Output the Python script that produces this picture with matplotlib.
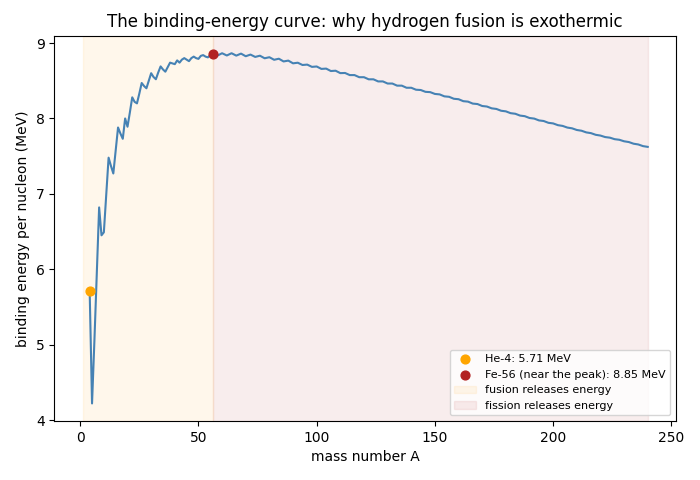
import matplotlib
matplotlib.use("Agg")
import matplotlib.pyplot as plt

# mass numbers
mass_light = list(range(4, 57))          # A = 4 .. 56, every nucleus
mass_heavy = list(range(58, 241, 2))     # A = 58 .. 240, every second nucleus

# binding energy per nucleon (MeV)
be_light = [
    5.71, 4.22, 5.05, 5.95, 6.82, 6.45, 6.49, 6.98, 7.48, 7.37,   # 4-13
    7.27, 7.57, 7.88, 7.80, 7.73, 8.00, 7.89, 8.08, 8.28, 8.22,   # 14-23
    8.20, 8.33, 8.47, 8.43, 8.40, 8.50, 8.60, 8.55, 8.52, 8.61,   # 24-33
    8.69, 8.65, 8.62, 8.68, 8.74, 8.73, 8.72, 8.77, 8.74, 8.78,   # 34-43
    8.80, 8.78, 8.76, 8.80, 8.82, 8.80, 8.79, 8.83, 8.84, 8.82,   # 44-53
    8.81, 8.84, 8.85,                                             # 54-56
]
be_heavy = [
    8.833, 8.865, 8.835, 8.865, 8.833, 8.860, 8.825, 8.847, 8.816, 8.832,  # 58-76
    8.798, 8.812, 8.778, 8.792, 8.756, 8.767, 8.731, 8.739, 8.709, 8.714,  # 78-96
    8.684, 8.689, 8.657, 8.661, 8.629, 8.633, 8.601, 8.603, 8.575, 8.575,  # 98-116
    8.547, 8.547, 8.519, 8.519, 8.491, 8.491, 8.463, 8.463, 8.435, 8.435,  # 118-136
    8.407, 8.407, 8.381, 8.377, 8.353, 8.349, 8.325, 8.319, 8.293, 8.287,  # 138-156
    8.261, 8.255, 8.229, 8.223, 8.197, 8.191, 8.165, 8.158, 8.134, 8.126,  # 158-176
    8.102, 8.094, 8.070, 8.062, 8.038, 8.030, 8.006, 7.998, 7.974, 7.966,  # 178-196
    7.942, 7.934, 7.911, 7.901, 7.879, 7.869, 7.847, 7.837, 7.815, 7.805,  # 198-216
    7.783, 7.773, 7.753, 7.745, 7.725, 7.717, 7.697, 7.687, 7.665, 7.655,  # 218-236
    7.633, 7.623,                                                          # 238-240
]

mass = mass_light + mass_heavy
be = be_light + be_heavy

he4_A, he4_be = 4, 5.71
fe56_A, fe56_be = 56, 8.85

fusion_range = (1, 56)
fission_range = (56, 240)

fig, ax = plt.subplots(figsize=(7, 4.8), dpi=100)
fig.subplots_adjust(left=0.0776, right=0.9657, top=0.9256, bottom=0.123)

ax.axvspan(*fusion_range, color="orange", alpha=0.08, label="fusion releases energy")
ax.axvspan(*fission_range, color="firebrick", alpha=0.08, label="fission releases energy")

ax.plot(mass, be, color="steelblue", lw=1.5, zorder=2)
ax.scatter([he4_A], [he4_be], color="orange", s=40, zorder=3,
           label=f"He-4: {he4_be:.2f} MeV")
ax.scatter([fe56_A], [fe56_be], color="firebrick", s=40, zorder=3,
           label=f"Fe-56 (near the peak): {fe56_be:.2f} MeV")

ax.set_title("The binding-energy curve: why hydrogen fusion is exothermic")
ax.set_xlabel("mass number A")
ax.set_ylabel("binding energy per nucleon (MeV)")

h, l = ax.get_legend_handles_labels()
order = [2, 3, 0, 1]
ax.legend([h[i] for i in order], [l[i] for i in order], loc="lower right", fontsize=8)

fig.savefig("out.png", dpi=100)
